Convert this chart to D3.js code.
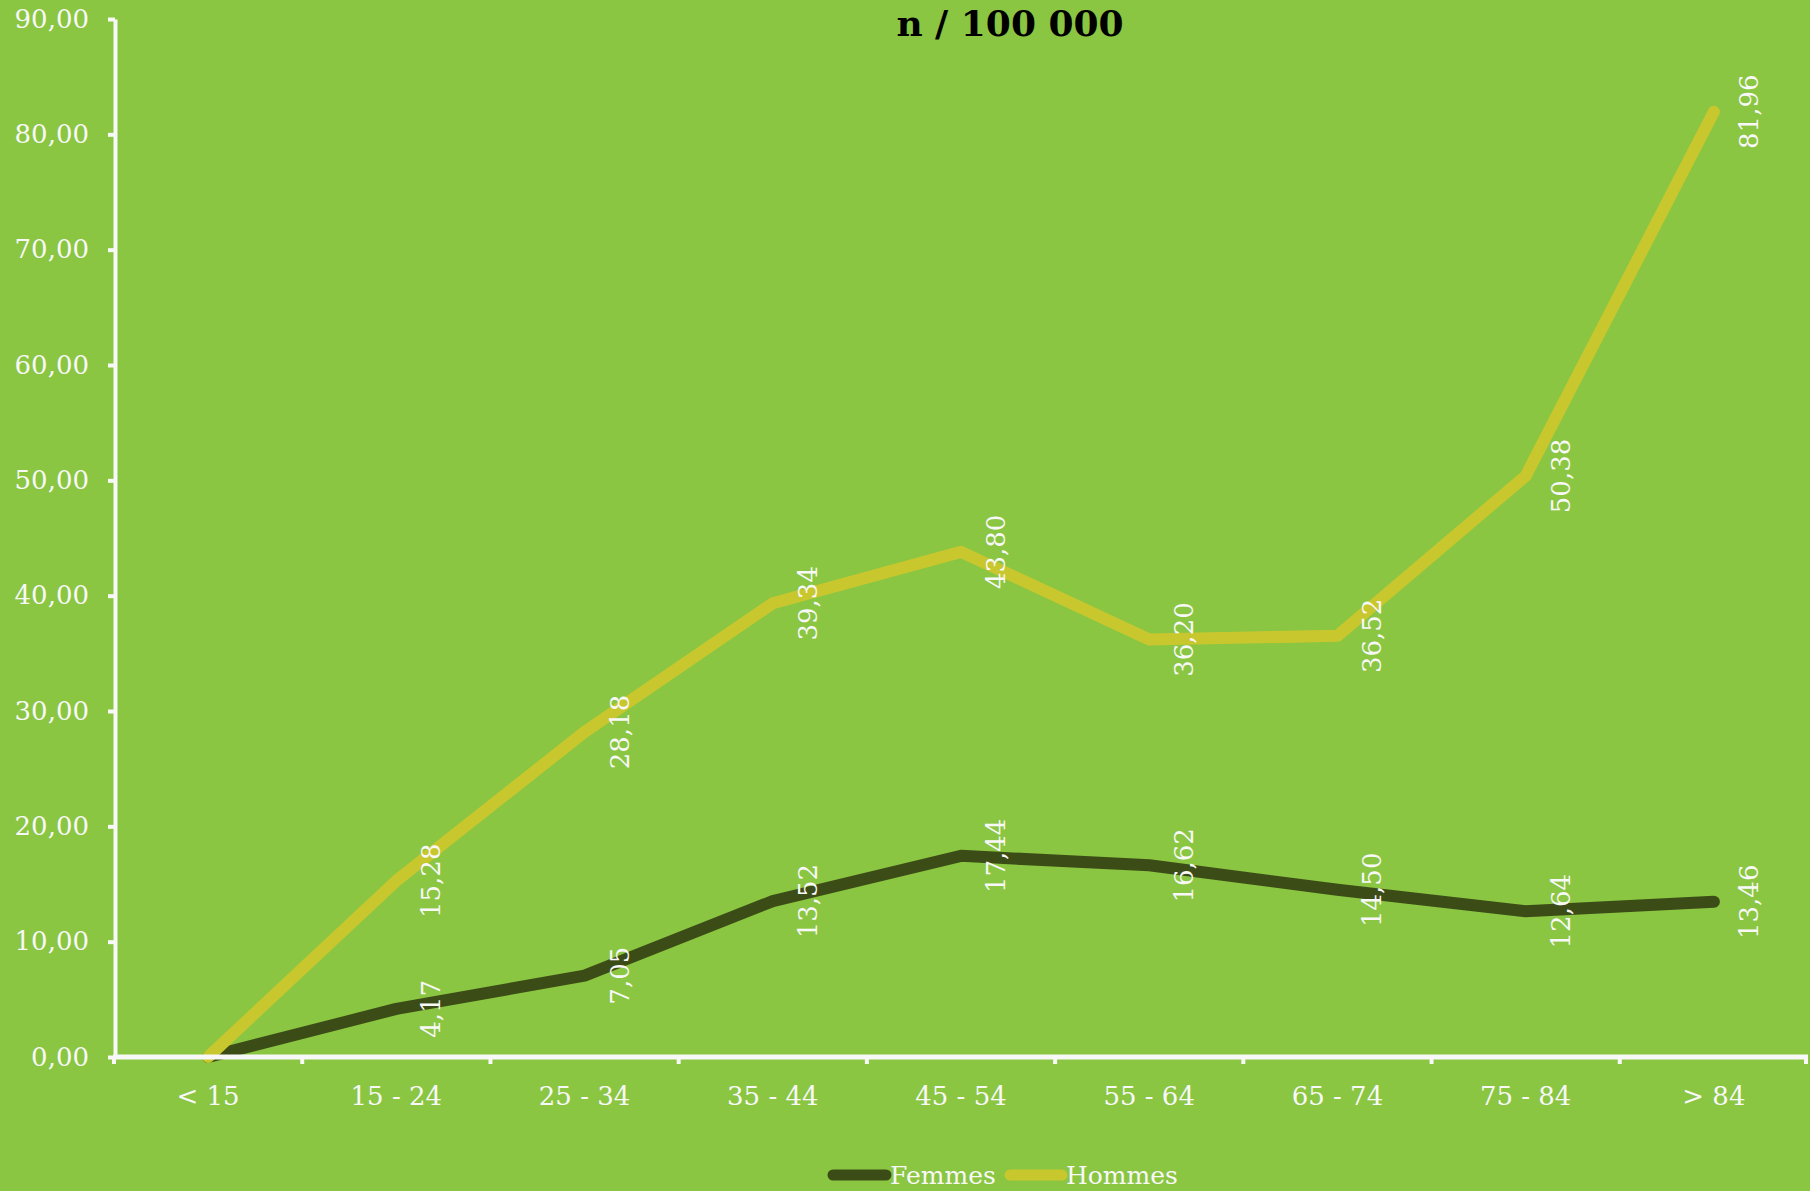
<!DOCTYPE html>
<html><head><meta charset="utf-8">
<script src="https://cdn.jsdelivr.net/npm/d3@7"></script>
<style>
html,body{margin:0;padding:0;background:#8AC642;}
svg{display:block;}
text{font-family:"DejaVu Serif",serif;}
</style></head>
<body>
<svg id="chart" width="1810" height="1191"></svg>
<script>
const categories = ["< 15","15 - 24","25 - 34","35 - 44","45 - 54","55 - 64","65 - 74","75 - 84","> 84"];
const femmes = [0, 4.17, 7.05, 13.52, 17.44, 16.62, 14.50, 12.64, 13.46];
const hommes = [0, 15.28, 28.18, 39.34, 43.80, 36.20, 36.52, 50.38, 81.96];
const yTicks = [0,10,20,30,40,50,60,70,80,90];
const seriesNames = ["Femmes","Hommes"];
const title = "n / 100 000";

const colors = {bg:"#8AC642", femmes:"#3C4C17", hommes:"#C9C72E", axis:"#F8F8F8", text:"#F8F8F8"};
const svg = d3.select("#chart");
svg.append("rect").attr("width",1810).attr("height",1191).attr("fill",colors.bg);

const x = d3.scaleBand().domain(categories).range([114,1808]).padding(0);
const y = d3.scaleLinear().domain([0,90]).range([1057,19]);
const fmt = v => d3.format(".2f")(v).replace(".", ",");

const series = [
  {name:seriesNames[0], values:femmes, color:colors.femmes},
  {name:seriesNames[1], values:hommes, color:colors.hommes}
];

const line = d3.line()
  .x((d,i)=>x(categories[i]) + x.bandwidth()/2)
  .y(d=>y(d));

series.forEach(s=>{
  svg.append("path").datum(s.values)
    .attr("d", line)
    .attr("fill","none")
    .attr("stroke", s.color)
    .attr("stroke-width", 12)
    .attr("stroke-linejoin","round")
    .attr("stroke-linecap","round");
});

// Y axis
const yAxis = d3.axisLeft(y).tickValues(yTicks).tickFormat(fmt).tickSize(7).tickSizeOuter(0).tickPadding(19);
const yg = svg.append("g").attr("transform","translate(115,0)").call(yAxis);
yg.select(".domain").attr("stroke",colors.axis).attr("stroke-width",4);
yg.selectAll(".tick line").attr("stroke",colors.axis).attr("stroke-width",4);
yg.selectAll(".tick text").attr("fill",colors.text).style("font-size","26px").style("font-family","DejaVu Serif");

// X axis
const xg = svg.append("g");
xg.append("line").attr("x1",113).attr("x2",1808).attr("y1",y(0)).attr("y2",y(0))
  .attr("stroke",colors.axis).attr("stroke-width",5);
const bounds = categories.map(c=>x(c)).concat([x.range()[1]]);
xg.selectAll("line.tk").data(bounds).join("line").attr("class","tk")
  .attr("x1",d=>Math.min(d,1806)).attr("x2",d=>Math.min(d,1806))
  .attr("y1",y(0)).attr("y2",y(0)+7)
  .attr("stroke",colors.axis).attr("stroke-width",4);
xg.selectAll("text").data(categories).join("text")
  .attr("x",d=>x(d)+x.bandwidth()/2).attr("y",1105)
  .attr("text-anchor","middle").attr("fill",colors.text)
  .style("font-size","26px").text(d=>d);

// Data labels
series.forEach(s=>{
  svg.append("g").selectAll("text").data(s.values.map((v,i)=>({v,i})).filter(d=>d.v>0)).join("text")
    .attr("transform",d=>`translate(${x(categories[d.i])+x.bandwidth()/2+35},${y(d.v)}) rotate(-90)`)
    .attr("text-anchor","middle").attr("dominant-baseline","central")
    .attr("fill",colors.text).style("font-size","26px")
    .text(d=>fmt(d.v));
});

// Title
svg.append("text").attr("x",1010).attr("y",36).attr("text-anchor","middle")
  .attr("fill","#000").style("font-size","36px").style("font-weight","bold").text(title);

// Legend
const legendItems = [
  {name:seriesNames[0], color:colors.femmes, x1:833, x2:886, tx:890},
  {name:seriesNames[1], color:colors.hommes, x1:1010, x2:1062, tx:1066}
];
legendItems.forEach(l=>{
  svg.append("line").attr("x1",l.x1).attr("x2",l.x2).attr("y1",1175).attr("y2",1175)
    .attr("stroke",l.color).attr("stroke-width",11).attr("stroke-linecap","round");
  svg.append("text").attr("x",l.tx).attr("y",1184).attr("fill",colors.text)
    .style("font-size","25px").text(l.name);
});
</script>
</body></html>
